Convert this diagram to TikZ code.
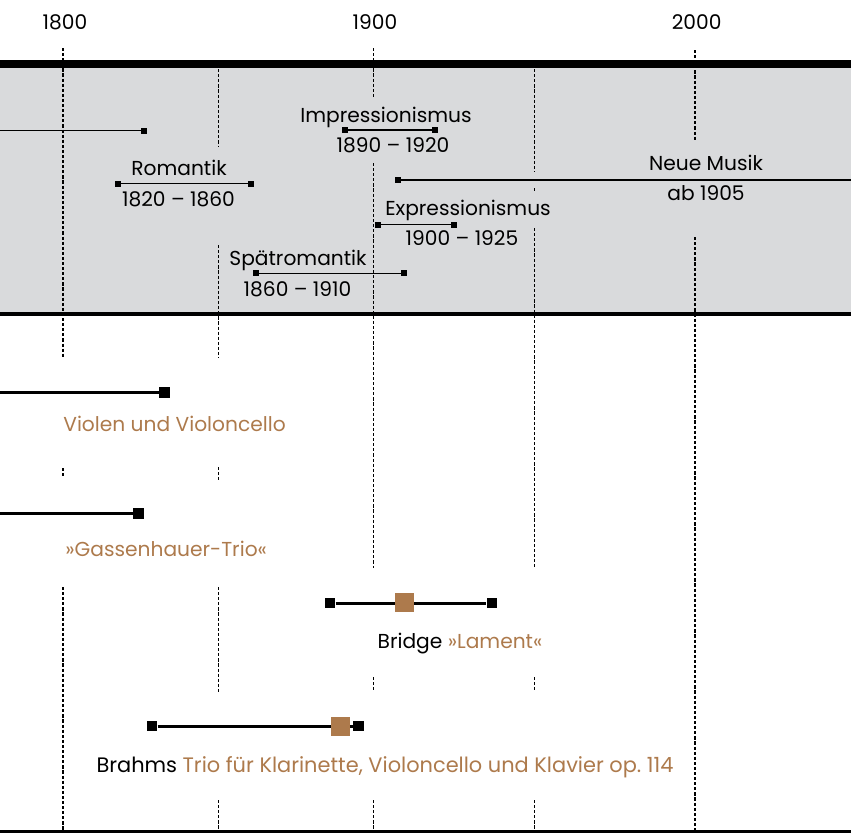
\documentclass[tikz,border=0pt]{standalone}
\usepackage{fontspec}
\setmainfont{Poppins}
\usepackage{tikz}
\usetikzlibrary{positioning}
\definecolor{bandgray}{HTML}{D9DADC}
\definecolor{werk}{HTML}{AD7A4C}
\tikzset{
    tick/.style={draw=black, line width=0.6pt, dash pattern=on 1.8pt off 1.1pt},
    bandbar/.style={line width=0.75pt},
    werkbar/.style={line width=1.7pt},
    smallmark/.style={rectangle, fill=black, inner sep=0pt, minimum size=0.12cm},
    bigmark/.style={rectangle, fill=black, inner sep=0pt, minimum size=0.21cm},
    datemark/.style={rectangle, fill=werk, inner sep=0pt, minimum size=0.38cm},
    label text/.style={font=\fontsize{11.5}{13}\selectfont, inner sep=0pt, anchor=base},
    werk text/.style={label text, text=werk},
}

\begin{document}
\begin{tikzpicture}[x=0.02cm, y=-0.02cm]
    \useasboundingbox (0,0) rectangle (851,832);

    \fill[bandgray] (0,64) rectangle (851,314);

    % gridlines, every 50 years
    \draw[tick] (63,48) -- (63,358) (63,468) -- (63,478) (63,587) -- (63,832);
    \draw[tick] (218.7,64) -- (218.7,147) (218.7,245) -- (218.7,358) (218.7,467) -- (218.7,480)
                (218.7,587) -- (218.7,692) (218.7,800) -- (218.7,832);
    \draw[tick] (373.7,48) -- (373.7,98) (373.7,163) -- (373.7,568) (373.7,677) -- (373.7,690)
                (373.7,800) -- (373.7,832);
    \draw[tick] (534.3,64) -- (534.3,172) (534.3,188) -- (534.3,193) (534.3,228) -- (534.3,568)
                (534.3,677) -- (534.3,690) (534.3,800) -- (534.3,832);
    \draw[tick] (695,50) -- (695,140) (695,237) -- (695,832);

    \node[label text] (y1800) at (65,29) {1800};
    \node[label text] (y1900) at (375,29) {1900};
    \node[label text] (y2000) at (696.7,29) {2000};

    \draw[line width=4.5pt] (0,64) -- (851,64);
    \draw[line width=2.3pt] (0,314) -- (851,314);
    \draw[line width=1.7pt] (0,831) -- (851,831);

    % epochs
    \coordinate (vorL) at (0,130.5);
    \node[smallmark] (vorR) at (144,130.5) {};
    \draw[bandbar] (vorL) -- (vorR);

    \node[smallmark] (romL) at (117.7,183.7) {};
    \node[smallmark] (romR) at (251,183.7) {};
    \draw[bandbar] (romL) -- (romR);
    \node[label text] (romName) at (179,175.7) {Romantik};
    \node[label text] (romYears) at (178.5,206.5) {1820 – 1860};

    \node[smallmark] (impL) at (345,130) {};
    \node[smallmark] (impR) at (435,130) {};
    \draw[bandbar] (impL) -- (impR);
    \node[label text] (impName) at (386,122) {Impressionismus};
    \node[label text] (impYears) at (393,152.5) {1890 – 1920};

    \node[smallmark] (neuL) at (398,180) {};
    \coordinate (neuR) at (851,180);
    \draw[bandbar] (neuL) -- (neuR);
    \node[label text] (neuName) at (706,170) {Neue Musik};
    \node[label text] (neuYears) at (706,200.5) {ab 1905};

    \node[smallmark] (expL) at (377.7,224.7) {};
    \node[smallmark] (expR) at (454,224.7) {};
    \draw[bandbar] (expL) -- (expR);
    \node[label text] (expName) at (468,215) {Expressionismus};
    \node[label text] (expYears) at (462,245.5) {1900 – 1925};

    \node[smallmark] (sprL) at (255.7,273.3) {};
    \node[smallmark] (sprR) at (404,273.3) {};
    \draw[bandbar] (sprL) -- (sprR);
    \node[label text] (sprName) at (298,265) {Spätromantik};
    \node[label text] (sprYears) at (297.5,296) {1860 – 1910};

    % works
    \coordinate (violL) at (0,392.5);
    \node[bigmark] (violR) at (164.5,392.5) {};
    \draw[werkbar] (violL) -- (violR);
    \node[werk text, anchor=base west] (violText) at (63,431.5) {Violen und Violoncello};

    \coordinate (gassL) at (0,513.3);
    \node[bigmark] (gassR) at (138.7,513.3) {};
    \draw[werkbar] (gassL) -- (gassR);
    \node[werk text, anchor=base west] (gassText) at (65,556.5) {»Gassenhauer-Trio«};

    \node[bigmark] (bridL) at (330,603) {};
    \node[bigmark] (bridR) at (492,603) {};
    \draw[werkbar] (bridL) -- (bridR);
    \node[datemark] (bridDate) at (404.5,602.5) {};
    \node[label text] (bridText) at (460,648) {Bridge \textcolor{werk}{»Lament«}};

    \node[bigmark] (brahL) at (152,726) {};
    \node[bigmark] (brahR) at (358.5,726) {};
    \draw[werkbar] (brahL) -- (brahR);
    \node[datemark] (brahDate) at (340.7,726) {};
    \node[label text, font=\fontsize{11.9}{13}\selectfont] (brahText) at (385,772.5) {Brahms \textcolor{werk}{Trio für Klarinette, Violoncello und Klavier op.~114}};
\end{tikzpicture}
\end{document}
